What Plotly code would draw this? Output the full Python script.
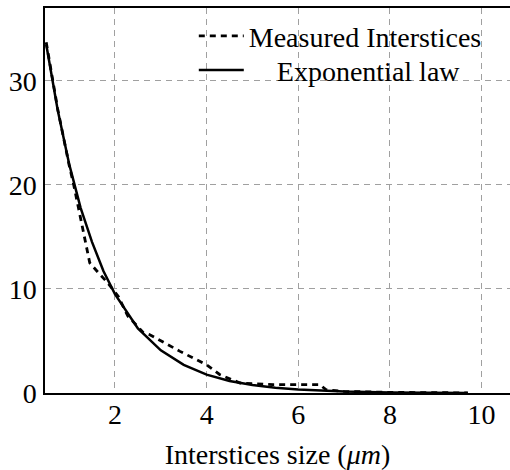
import plotly.graph_objects as go

# Measured interstices distribution (dashed)
measured_x = [0.5, 0.75, 1.0, 1.1, 1.24, 1.45, 1.67, 1.82, 2.07, 2.28, 2.62, 2.76, 3.42, 4.0, 4.29, 4.73, 5.45, 6.0, 6.47, 6.61, 7.0, 8.0, 9.0, 9.7]
measured_y = [33.7, 27.3, 21.9, 20.0, 17.0, 12.5, 11.4, 10.7, 9.3, 7.4, 5.8, 5.6, 4.0, 2.7, 1.76, 0.96, 0.8, 0.8, 0.8, 0.3, 0.15, 0.06, 0.03, 0.01]

# Exponential law fit (solid)
expo_x = [0.5, 0.75, 1.0, 1.25, 1.5, 1.75, 2.0, 2.5, 3.0, 3.5, 4.0, 4.5, 5.0, 5.5, 6.0, 6.5, 7.0, 8.0, 9.0, 9.7]
expo_y = [33.5, 27.2, 22.0, 17.8, 14.5, 11.7, 9.5, 6.2, 4.1, 2.7, 1.77, 1.16, 0.76, 0.50, 0.33, 0.22, 0.14, 0.06, 0.03, 0.01]

x_ticks = [2, 4, 6, 8, 10]
y_ticks = [0, 10, 20, 30]

FONT = "Liberation Serif, Times New Roman, DejaVu Serif, serif"

fig = go.Figure()
fig.add_trace(go.Scatter(
    x=measured_x, y=measured_y, mode="lines", name="Measured Interstices",
    line=dict(color="black", width=2.8, dash="6px,5px"), legend="legend",
))
fig.add_trace(go.Scatter(
    x=expo_x, y=expo_y, mode="lines", name="\u00a0\u00a0\u00a0\u00a0Exponential law",
    line=dict(color="black", width=2.5), legend="legend2",
))

leg_common = dict(
    xanchor="left", yanchor="middle",
    bgcolor="rgba(0,0,0,0)", borderwidth=0,
    font=dict(family=FONT, size=28, color="black"),
    itemwidth=45,
)

fig.update_layout(
    width=510, height=470,
    margin=dict(l=45, r=0, t=8, b=77, autoexpand=False),
    paper_bgcolor="white", plot_bgcolor="white",
    font=dict(family=FONT, size=28, color="black"),
    showlegend=True,
    legend=dict(x=0.32, y=0.927, **leg_common),
    legend2=dict(x=0.32, y=0.838, **leg_common),
    xaxis=dict(
        range=[0.473, 10.62], automargin=False,
        tickvals=x_ticks, ticktext=[str(v) for v in x_ticks],
        ticks="", showline=True, linecolor="black", linewidth=1.5, mirror=True,
        showgrid=True, gridcolor="#a0a0a0", gridwidth=1, griddash="6px,5px",
        zeroline=False,
        title=dict(text="Interstices size (<i>μm</i>)", font=dict(family=FONT, size=28), standoff=15),
        tickfont=dict(family=FONT, size=28),
        ticklabelstandoff=-4,
    ),
    yaxis=dict(
        range=[0, 37], automargin=False,
        tickvals=y_ticks, ticktext=[str(v) for v in y_ticks],
        ticks="", showline=True, linecolor="black", linewidth=1.5, mirror=False,
        showgrid=True, gridcolor="#a0a0a0", gridwidth=1, griddash="6px,5px",
        zeroline=False,
        tickfont=dict(family=FONT, size=28),
        ticklabelstandoff=1,
    ),
)

fig.write_html(
    "out.html",
    config={"displayModeBar": False},
    post_script="document.body.style.margin='0px';document.body.style.overflow='hidden';",
)
